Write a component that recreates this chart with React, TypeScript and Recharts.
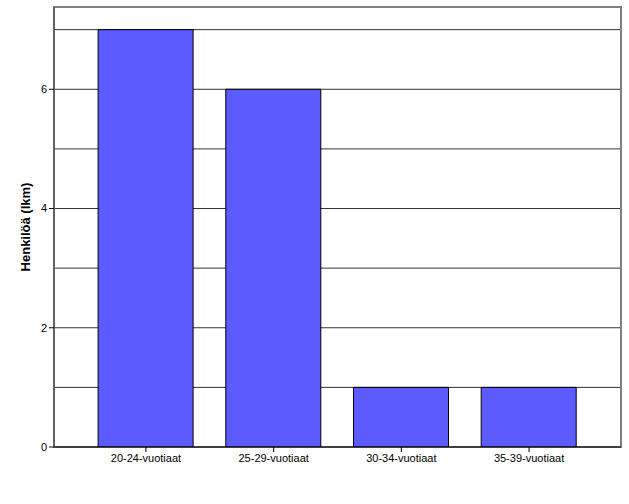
import React from 'react';
import { BarChart, Bar, XAxis, YAxis, CartesianGrid, ReferenceArea } from 'recharts';

const categories = ['20-24-vuotiaat', '25-29-vuotiaat', '30-34-vuotiaat', '35-39-vuotiaat'];
const counts = [7, 6, 1, 1];
const yTicks = [0, 2, 4, 6];
const gridValues = [1, 2, 3, 4, 5, 6, 7];
const yMax = 7.38;
// category positions on a numeric axis, with the empty margin at both ends
const xPositions = [0, 1, 2, 3];
const xMin = -0.72;
const xMax = 3.72;

const data = categories.map((name, i) => ({ x: xPositions[i], name, count: counts[i] }));

const font = 'Liberation Sans, Arial, sans-serif';

export default function App() {
  return (
    <div style={{ position: 'absolute', left: 0, top: 0, width: 629, height: 504, background: '#fff' }}>
      <BarChart
        width={629}
        height={504}
        data={data}
        margin={{ top: 7, right: 8, bottom: 22, left: 0 }}
        barSize={95}
      >
        <CartesianGrid
          vertical={false}
          horizontalValues={gridValues}
          stroke="#333"
          strokeWidth={1}
        />
        {/* frame around the plot area */}
        <ReferenceArea
          x1={xMin}
          x2={xMax}
          y1={0}
          y2={yMax}
          fill="none"
          stroke="#808080"
          strokeWidth={2}
          ifOverflow="visible"
        />
        <XAxis
          dataKey="x"
          type="number"
          domain={[xMin, xMax]}
          ticks={xPositions}
          allowDataOverflow
          tickFormatter={(v: number) => categories[v] ?? ''}
          tick={{ fontSize: 11, fill: '#000', fontFamily: font }}
          tickLine={{ stroke: '#000' }}
          tickSize={5}
          axisLine={{ stroke: '#000' }}
          height={35}
          interval={0}
        />
        <YAxis
          domain={[0, yMax]}
          ticks={yTicks}
          width={54}
          allowDataOverflow
          tick={{ fontSize: 11, fill: '#000', fontFamily: font }}
          tickLine={{ stroke: '#000' }}
          tickSize={5}
          axisLine={{ stroke: '#444' }}
          label={{
            value: 'Henkilöä (lkm)',
            angle: -90,
            position: 'insideLeft',
            offset: 25,
            style: { textAnchor: 'middle', fontSize: 13, fontWeight: 'bold', fill: '#000', fontFamily: font },
          }}
        />
        <Bar dataKey="count" fill="#5b5bff" stroke="#000" strokeWidth={1} isAnimationActive={false} />
      </BarChart>
    </div>
  );
}
